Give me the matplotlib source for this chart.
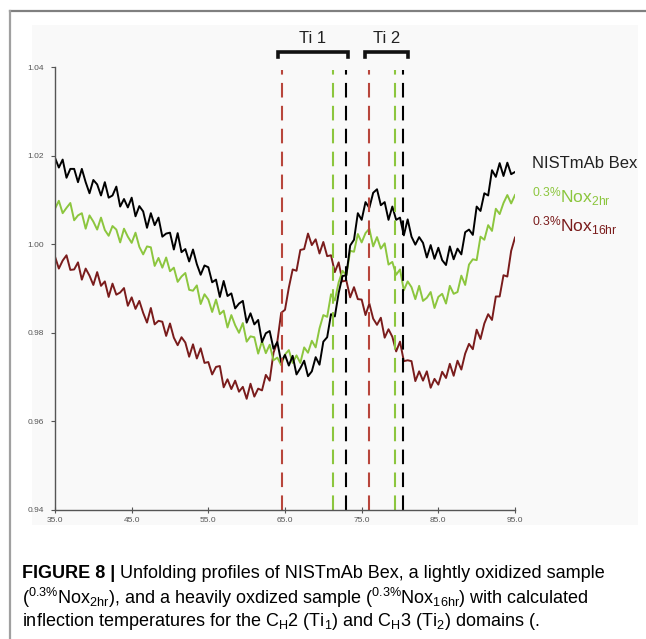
import numpy as np
import matplotlib.pyplot as plt
from matplotlib import font_manager
from matplotlib.patches import Rectangle
from matplotlib.lines import Line2D

# --- Daten (35-95 °C in 0.5er Schritten)
temps = np.linspace(35.0, 95.0, 121)

bex = [1.0195, 1.0173, 1.0191, 1.0150, 1.0170, 1.0170, 1.0140, 1.0170, 1.0140, 1.0115,
       1.0145, 1.0135, 1.0110, 1.0140, 1.0105, 1.0110, 1.0130, 1.0085, 1.0102, 1.0083,
       1.0105, 1.0063, 1.0086, 1.0074, 1.0037, 1.0070, 1.0043, 1.0060, 1.0017, 1.0024,
       1.0026, 0.9988, 1.0025, 0.9982, 0.9989, 0.9961, 0.9988, 0.9955, 0.9931, 0.9952,
       0.9948, 0.9914, 0.9920, 0.9881, 0.9917, 0.9883, 0.9889, 0.9855, 0.9866, 0.9872,
       0.9823, 0.9844, 0.9819, 0.9829, 0.9779, 0.9799, 0.9804, 0.9764, 0.9779, 0.9734,
       0.9750, 0.9726, 0.9748, 0.9706, 0.9720, 0.9737, 0.9702, 0.9713, 0.9745, 0.9728,
       0.9780, 0.9790, 0.9842, 0.9837, 0.9890, 0.9928, 0.9930, 0.9997, 1.0010, 1.0070,
       1.0055, 1.0095, 1.0082, 1.0116, 1.0124, 1.0088, 1.0095, 1.0055, 1.0085, 1.0055,
       1.0060, 1.0020, 1.0056, 1.0017, 0.9999, 1.0016, 1.0003, 0.9970, 0.9998, 0.9967,
       0.9992, 0.9964, 0.9953, 0.9995, 0.9966, 0.9990, 0.9977, 1.0027, 1.0033, 1.0021,
       1.0085, 1.0075, 1.0115, 1.0110, 1.0167, 1.0152, 1.0183, 1.0154, 1.0184, 1.0158,
       1.0163]

nox2 = [1.0080, 1.0098, 1.0070, 1.0082, 1.0093, 1.0054, 1.0065, 1.0070, 1.0035, 1.0065,
        1.0051, 1.0033, 1.0060, 1.0032, 1.0019, 1.0041, 1.0033, 1.0004, 1.0035, 1.0017,
        1.0003, 1.0026, 0.9994, 0.9977, 0.9995, 0.9993, 0.9951, 0.9969, 0.9947, 0.9970,
        0.9939, 0.9947, 0.9915, 0.9927, 0.9935, 0.9897, 0.9895, 0.9907, 0.9865, 0.9887,
        0.9875, 0.9847, 0.9875, 0.9842, 0.9850, 0.9812, 0.9840, 0.9817, 0.9800, 0.9822,
        0.9780, 0.9792, 0.9790, 0.9753, 0.9781, 0.9754, 0.9773, 0.9738, 0.9744, 0.9727,
        0.9751, 0.9761, 0.9732, 0.9749, 0.9732, 0.9767, 0.9755, 0.9782, 0.9767, 0.9810,
        0.9840, 0.9836, 0.9887, 0.9873, 0.9914, 0.9940, 0.9930, 0.9985, 0.9983, 1.0023,
        1.0004, 1.0025, 1.0035, 0.9995, 1.0016, 0.9990, 1.0002, 0.9954, 0.9960, 0.9931,
        0.9943, 0.9896, 0.9916, 0.9903, 0.9876, 0.9906, 0.9872, 0.9879, 0.9892, 0.9856,
        0.9881, 0.9888, 0.9866, 0.9906, 0.9888, 0.9892, 0.9929, 0.9908, 0.9954, 0.9966,
        0.9964, 1.0017, 1.0010, 1.0043, 1.0030, 1.0080, 1.0068, 1.0093, 1.0111, 1.0092,
        1.0111]

nox16 = [0.9972, 0.9945, 0.9963, 0.9975, 0.9942, 0.9943, 0.9959, 0.9920, 0.9945, 0.9929,
         0.9908, 0.9937, 0.9906, 0.9916, 0.9881, 0.9911, 0.9886, 0.9891, 0.9901, 0.9861,
         0.9880, 0.9854, 0.9872, 0.9845, 0.9823, 0.9856, 0.9819, 0.9827, 0.9825, 0.9793,
         0.9821, 0.9789, 0.9772, 0.9790, 0.9778, 0.9746, 0.9774, 0.9742, 0.9765, 0.9732,
         0.9734, 0.9706, 0.9723, 0.9725, 0.9677, 0.9695, 0.9673, 0.9692, 0.9667, 0.9678,
         0.9651, 0.9685, 0.9656, 0.9674, 0.9670, 0.9705, 0.9692, 0.9755, 0.9780, 0.9845,
         0.9852, 0.9902, 0.9943, 0.9940, 0.9987, 0.9989, 1.0024, 0.9998, 1.0011, 0.9979,
         1.0005, 0.9973, 0.9975, 0.9937, 0.9959, 0.9916, 0.9918, 0.9880, 0.9903, 0.9876,
         0.9875, 0.9840, 0.9866, 0.9832, 0.9818, 0.9834, 0.9789, 0.9808, 0.9791, 0.9758,
         0.9780, 0.9736, 0.9738, 0.9736, 0.9691, 0.9713, 0.9692, 0.9713, 0.9676, 0.9696,
         0.9683, 0.9712, 0.9698, 0.9730, 0.9703, 0.9737, 0.9717, 0.9753, 0.9775, 0.9763,
         0.9807, 0.9786, 0.9821, 0.9842, 0.9829, 0.9882, 0.9882, 0.9930, 0.9927, 0.9985,
         1.0015]

# Wendepunkte (Ti1, Ti2) je Probe
ti_nox16 = [64.6, 76.0]
ti_nox2 = [71.3, 79.4]
ti_bex = [72.9, 80.4]

xticks = [35.0, 45.0, 55.0, 65.0, 75.0, 85.0, 95.0]
yticks = [0.94, 0.96, 0.98, 1.00, 1.02, 1.04]

c_bex = '#000000'
c_nox2 = '#8cc63e'
c_nox16 = '#7a1c1c'
c_dash16 = '#b8463c'

fonts = {f.name for f in font_manager.fontManager.ttflist}
cap_font = 'Liberation Sans Narrow' if 'Liberation Sans Narrow' in fonts else 'Liberation Sans'

plt.rcParams['font.family'] = ['Liberation Sans', 'DejaVu Sans']
plt.rcParams['mathtext.fontset'] = 'custom'
plt.rcParams['mathtext.rm'] = 'Liberation Sans'
plt.rcParams['mathtext.it'] = 'Liberation Sans'
plt.rcParams['mathtext.bf'] = 'Liberation Sans:bold'

W, H = 646, 639
fig = plt.figure(figsize=(W / 100, H / 100), dpi=100)

# Rahmen und leicht grauer Bildhintergrund
fig.add_artist(Line2D([10 / W, 1], [1 - 11 / H] * 2, color='#808080', lw=1.6))
fig.add_artist(Line2D([10 / W] * 2, [0, 1 - 11 / H], color='#a0a0a0', lw=1.6))
fig.add_artist(Rectangle((32 / W, 1 - 525 / H), (638 - 32) / W, (525 - 25) / H,
                         facecolor='#f9f9f9', edgecolor='none', zorder=0))

ax = fig.add_axes([55 / W, 1 - 510 / H, 460 / W, 443 / H])
ax.set_facecolor('none')

ax.plot(temps, nox16, color=c_nox16, lw=1.4)
ax.plot(temps, nox2, color=c_nox2, lw=1.4)
ax.plot(temps, bex, color=c_bex, lw=1.4)

ax.set_xlim(35, 95)
ax.set_ylim(0.94, 1.04)
ax.set_xticks(xticks)
ax.set_xticklabels(['%.1f' % v for v in xticks])
ax.set_yticks(yticks)
ax.set_yticklabels(['%.2f' % v for v in yticks])
for s in ['top', 'right']:
    ax.spines[s].set_visible(False)
for s in ['left', 'bottom']:
    ax.spines[s].set_color('#555555')
    ax.spines[s].set_linewidth(1.0)
ax.tick_params(axis='x', direction='inout', length=4, labelsize=6, colors='#555555', pad=3)
ax.tick_params(axis='y', direction='out', length=3, labelsize=6, colors='#555555', pad=5)

# gestrichelte Linien der Wendetemperaturen
y_top = 1.0393
for xs, c in [(ti_nox16, c_dash16), (ti_nox2, c_nox2), (ti_bex, c_bex)]:
    for xv in xs:
        ax.plot([xv, xv], [0.94, y_top], color=c, lw=1.5, dashes=(7, 4), clip_on=False)

# Klammern Ti 1 / Ti 2
yb = 1.0434
d = 0.0012
for x0, x1, lab in [(64.1, 73.2, 'Ti 1'), (75.4, 81.0, 'Ti 2')]:
    ax.plot([x0, x0, x1, x1], [yb - d, yb, yb, yb - d], color='#111111', lw=2.6,
            solid_joinstyle='miter', clip_on=False)
    ax.text((x0 + x1) / 2, yb + 0.0014, lab, ha='center', va='bottom', fontsize=12,
            color='#222222')

# Beschriftung rechts
ax.text(97.2, 1.0183, 'NISTmAb Bex', fontsize=12, color='#222222', va='center')
ax.text(97.2, 1.0107, r'$^{0.3\%}$Nox$_{2hr}$', fontsize=12.5, color=c_nox2, va='center')
ax.text(97.2, 1.0041, r'$^{0.3\%}$Nox$_{16hr}$', fontsize=12.5, color=c_nox16, va='center')

# Bildunterschrift
t1 = fig.text(22 / W, 1 - 574 / H, 'FIGURE 8 |', fontsize=13, fontweight='bold',
              family=cap_font, va='center')
ax.annotate(' Unfolding profiles of NISTmAb Bex, a lightly oxidized sample',
            xy=(1, 0), xycoords=t1, va='bottom', fontsize=13, family=cap_font,
            annotation_clip=False)
fig.text(22 / W, 1 - 598 / H,
         r'($^{0.3\%}$Nox$_{2hr}$), and a heavily oxdized sample ($^{0.3\%}$Nox$_{16hr}$) with calculated',
         fontsize=13, family=cap_font, va='center')
fig.text(22 / W, 1 - 622 / H,
         r'inflection temperatures for the C$_H$2 (Ti$_1$) and C$_H$3 (Ti$_2$) domains (.',
         fontsize=13, family=cap_font, va='center')

fig.savefig('out.png', dpi=100)
